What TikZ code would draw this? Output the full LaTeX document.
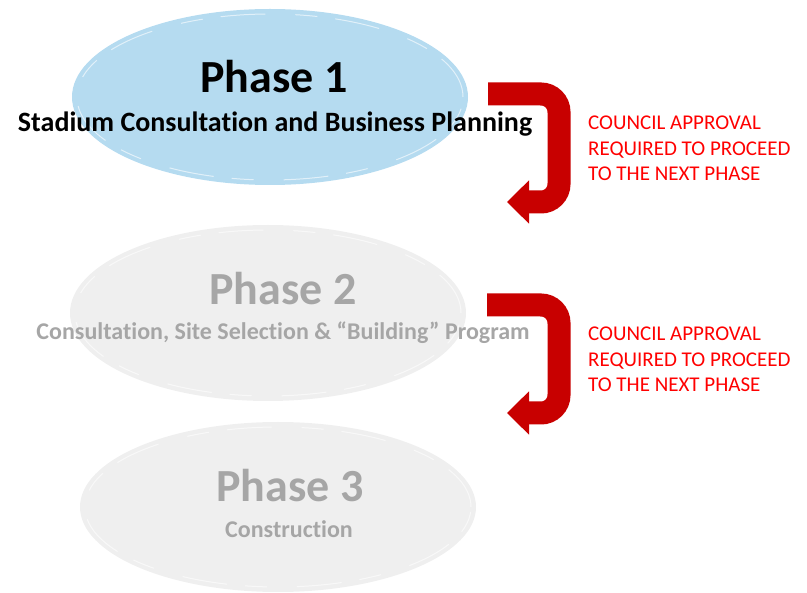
\documentclass[tikz,border=0pt]{standalone}
\usepackage{fontspec}
\setmainfont{Carlito}[Ligatures=NoCommon]
\usetikzlibrary{arrows.meta,positioning,shapes.geometric}
\definecolor{phaseblue}{RGB}{181,219,240}
\definecolor{phasegrey}{RGB}{239,239,239}
\definecolor{greytext}{RGB}{166,166,166}
\definecolor{arrowred}{RGB}{200,0,0}
\definecolor{notered}{RGB}{255,0,0}

\begin{document}
\begin{tikzpicture}[x=1pt,y=-1pt,
  phase/.style={ellipse,minimum width=396pt,minimum height=176pt,inner sep=0pt},
  brush/.style={ellipse,minimum width=386pt,minimum height=166pt,inner sep=0pt,
    draw=white,draw opacity=.6,line width=1pt,dash pattern=on 45pt off 18pt on 22pt off 30pt},
  title/.style={font=\bfseries\fontsize{46}{50}\selectfont,anchor=base},
  subtitle/.style={font=\bfseries\fontsize{24}{28}\selectfont,anchor=base},
  note/.style={text=notered,font=\fontsize{21}{25.5}\selectfont,align=left,anchor=base west,inner sep=0pt},
  turn/.style={draw=arrowred,line width=23pt,rounded corners=18pt,-{Triangle[length=22pt,width=42pt]}}]
  \useasboundingbox (0,0) rectangle (807,593);

  % phases
  \node[phase,fill=phaseblue] (ph1) at (270,97) {};
  \node[brush] at (270,97) {};
  \node[phase,fill=phasegrey] (ph2) at (268,313) {};
  \node[brush] at (268,313) {};
  \node[phase,fill=phasegrey,minimum height=170pt] (ph3) at (278,507) {};
  \node[brush,minimum height=160pt] at (278,507) {};

  \node[title] (t1) at (274,93) {Phase 1};
  \node[subtitle,font=\bfseries\fontsize{28}{32}\selectfont] (s1) at (275,132) {Stadium Consultation and Business Planning};
  \node[title,text=greytext] (t2) at (283,305) {Phase 2};
  \node[subtitle,text=greytext] (s2) at (283,340) {Consultation, Site Selection \& “Building” Program};
  \node[title,text=greytext] (t3) at (290,502) {Phase 3};
  \node[subtitle,text=greytext] (s3) at (289,538) {Construction};

  % approval turns
  \coordinate (a1s) at (488,94);
  \coordinate (a1e) at (507,202);
  \coordinate (a2s) at (487,305);
  \coordinate (a2e) at (507,413);
  \draw[turn] (a1s) -- (559,94) -- (559,202) -- (a1e);
  \draw[turn] (a2s) -- (559,305) -- (559,413) -- (a2e);

  % base anchor sits on the last line
  \node[note] (n1) at (588,181) {COUNCIL APPROVAL\\REQUIRED TO PROCEED\\TO THE NEXT PHASE};
  \node[note] (n2) at (588,392) {COUNCIL APPROVAL\\REQUIRED TO PROCEED\\TO THE NEXT PHASE};
\end{tikzpicture}
\end{document}
